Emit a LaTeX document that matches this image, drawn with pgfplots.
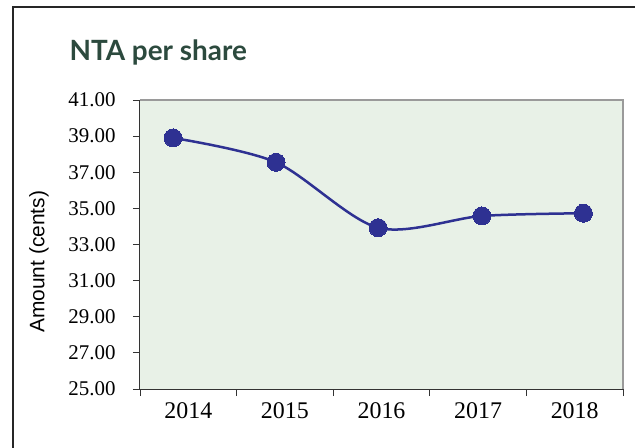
\documentclass[border=0pt]{standalone}
\usepackage{fontspec}
\setmainfont{Liberation Serif}
\newfontfamily\titlefont{Lato}
\newfontfamily\labelfont{Liberation Sans}
\usepackage{pgfplots}
\pgfplotsset{compat=1.18}
\definecolor{bggreen}{HTML}{E8F1E7}
\definecolor{titlegreen}{HTML}{2C4A3E}
\definecolor{navy}{HTML}{2E3192}
\definecolor{framegray}{HTML}{9A9A9A}

\begin{document}
\begin{tikzpicture}
\useasboundingbox (-140bp,-59bp) rectangle (495bp,389bp);
% outer frame (only top and left visible in the crop)
\draw[line width=1.5bp, black!85] (-127bp,-70bp) -- (-127bp,382bp) -- (510bp,382bp);
\node[anchor=base west, text=titlegreen, font=\titlefont\bfseries\fontsize{28}{28}\selectfont]
  at (-74bp,328bp) {NTA per share};
\begin{axis}[
  at={(0,0)}, anchor=south west,
  scale only axis, width=483bp, height=289bp,
  xmin=0, xmax=5, ymin=25, ymax=41,
  axis background/.style={fill=bggreen},
  axis x line*=bottom, axis y line*=left,
  axis line style={black!80, line width=1bp, -},
  tick align=outside, major tick length=7bp,
  tick style={black!80, line width=0.9bp},
  ytick={25,27,...,41},
  /pgf/number format/assume math mode=true,
  y tick label style={/pgf/number format/.cd, fixed, fixed zerofill, precision=2, /tikz/.cd,
    font=\fontsize{21}{21}\selectfont, xshift=-14bp},
  xtick={0,1,2,3,4,5}, xticklabels={},
  extra x ticks={0.5,1.5,2.5,3.5,4.5},
  extra x tick labels={2014,2015,2016,2017,2018},
  extra x tick style={major tick length=0pt,
    xticklabel style={font=\fontsize{24}{24}\selectfont, yshift=-10bp}},
  clip=false,
]
\draw[framegray, line width=2bp] (rel axis cs:0,1) -- (rel axis cs:1,1) -- (rel axis cs:1,0);
\addplot[navy, line width=2.5bp, smooth, mark=*, mark size=9bp,
  mark options={fill=navy, draw=navy, line width=0pt}]
  coordinates {(0.342,38.90) (1.408,37.55) (2.464,33.93) (3.540,34.58) (4.590,34.73)};
\node[rotate=90, anchor=center, font=\labelfont\fontsize{21}{21}\selectfont]
  at (axis description cs:-0.209,0.44) {Amount (cents)};
\end{axis}
\end{tikzpicture}
\end{document}
